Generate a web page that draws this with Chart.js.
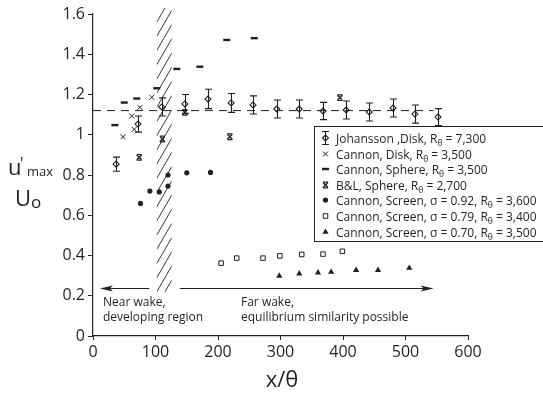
<!DOCTYPE html>
<html lang="en">
<head>
<meta charset="UTF-8">
<title>Wake turbulence intensity</title>
<script src="https://cdn.jsdelivr.net/npm/chart.js"></script>
<style>
    body { margin: 0; padding: 0; overflow: hidden; background: white; }
    #wrap { width: 543px; height: 394px; position: relative; }
</style>
</head>
<body>
<div id="wrap"><canvas id="chart" width="543" height="394"></canvas></div>
<script>
// values
const johanssonX = [37, 72, 110, 147, 184, 221, 256, 294, 330, 368, 405, 442, 480, 515, 552];
const johanssonY = [0.854, 1.053, 1.138, 1.153, 1.178, 1.158, 1.148, 1.128, 1.128, 1.118, 1.123, 1.113, 1.133, 1.103, 1.088];
const johanssonErr = [0.035, 0.04, 0.045, 0.047, 0.048, 0.047, 0.045, 0.045, 0.045, 0.043, 0.045, 0.045, 0.045, 0.045, 0.042];

const diskX = [48, 62, 66, 75, 94];
const diskY = [0.99, 1.093, 1.027, 1.136, 1.186];

const sphereX = [35, 50, 70, 102, 134, 171, 214, 258];
const sphereY = [1.048, 1.16, 1.18, 1.231, 1.327, 1.338, 1.471, 1.48];

const blX = [74, 111, 147, 219, 395];
const blY = [0.888, 0.979, 1.111, 0.99, 1.184];

const screen92X = [76, 91, 106, 120, 120, 150, 188];
const screen92Y = [0.659, 0.72, 0.716, 0.745, 0.8, 0.811, 0.813];

const screen79X = [205, 230, 272, 299, 334, 368, 399];
const screen79Y = [0.362, 0.387, 0.387, 0.398, 0.405, 0.407, 0.421];

const screen70X = [298, 330, 360, 381, 421, 456, 506];
const screen70Y = [0.299, 0.31, 0.315, 0.318, 0.327, 0.327, 0.338];

// equilibrium level and annotations
const levelX = [0, 545];
const levelY = [1.12, 1.12];
const hatchX = [102, 126];
const hatchY = [0.22, 1.63];
const nearArrowX = [90, 11];
const farArrowX = [139, 545];
const arrowY = 0.236;

const legendLabels = [
    'Johansson ,Disk, R_θ = 7,300',
    'Cannon, Disk, R_θ = 3,500',
    'Cannon, Sphere, R_θ = 3,500',
    'B&L, Sphere, R_θ = 2,700',
    'Cannon, Screen, σ = 0.92, R_θ = 3,600',
    'Cannon, Screen, σ = 0.79, R_θ = 3,400',
    'Cannon, Screen, σ = 0.70, R_θ = 3,500'
];
const nearText = ['Near wake,', 'developing region'];
const farText = ['Far wake,', 'equilibrium similarity possible'];

const ink = '#231f20';
const fontFamily = '"Open Sans", "DejaVu Sans", sans-serif';

function pts(xs, ys) {
    return xs.map((x, i) => ({ x: x, y: ys[i] }));
}

const datasets = [
    { label: legendLabels[0], data: pts(johanssonX, johanssonY), pointStyle: 'rectRot', pointRadius: 3,
      borderColor: ink, backgroundColor: 'rgba(0,0,0,0)', pointBorderWidth: 1.1, errKey: true },
    { label: legendLabels[1], data: pts(diskX, diskY), pointStyle: 'crossRot', pointRadius: 3.5,
      borderColor: ink, backgroundColor: ink, pointBorderWidth: 1 },
    { label: legendLabels[2], data: pts(sphereX, sphereY), pointStyle: 'line', pointRadius: 3.5,
      borderColor: ink, backgroundColor: ink, pointBorderWidth: 2.4 },
    { label: legendLabels[3], data: pts(blX, blY), pointStyle: 'crossRot', pointRadius: 3.4,
      borderColor: ink, backgroundColor: ink, pointBorderWidth: 1.4, barred: true },
    { label: legendLabels[4], data: pts(screen92X, screen92Y), pointStyle: 'circle', pointRadius: 2.6,
      borderColor: ink, backgroundColor: ink, pointBorderWidth: 0 },
    { label: legendLabels[5], data: pts(screen79X, screen79Y), pointStyle: 'rect', pointRadius: 3.2,
      borderColor: ink, backgroundColor: '#fff', pointBorderWidth: 1 },
    { label: legendLabels[6], data: pts(screen70X, screen70Y), pointStyle: 'triangle', pointRadius: 3.6,
      borderColor: ink, backgroundColor: ink, pointBorderWidth: 0 },
    { label: 'level', data: pts(levelX, levelY), showLine: true, pointRadius: 0,
      borderColor: ink, borderWidth: 1, borderDash: [8, 6], inKey: false }
];

function bars(ctx, px, py) {
    ctx.beginPath();
    ctx.moveTo(px - 2.6, py - 2.8); ctx.lineTo(px + 2.6, py - 2.8);
    ctx.moveTo(px - 2.6, py + 2.8); ctx.lineTo(px + 2.6, py + 2.8);
    ctx.stroke();
}

function errorBar(ctx, px, top, bot) {
    ctx.beginPath();
    ctx.moveTo(px, top); ctx.lineTo(px, bot);
    ctx.moveTo(px - 3.5, top); ctx.lineTo(px + 3.5, top);
    ctx.moveTo(px - 3.5, bot); ctx.lineTo(px + 3.5, bot);
    ctx.stroke();
}

const decorations = {
    id: 'decorations',
    beforeDatasetsDraw(chart) {
        const { ctx, scales: { x, y } } = chart;
        // hatched band
        const x0 = x.getPixelForValue(hatchX[0]), x1 = x.getPixelForValue(hatchX[1]);
        const yTop = y.getPixelForValue(hatchY[1]), yBot = y.getPixelForValue(hatchY[0]);
        ctx.save();
        ctx.beginPath();
        ctx.rect(x0, yTop, x1 - x0, yBot - yTop);
        ctx.clip();
        ctx.strokeStyle = ink;
        ctx.lineWidth = 0.9;
        const rise = 26, gap = 14.2;
        for (let yy = yTop; yy < yBot + rise; yy += gap) {
            ctx.beginPath();
            ctx.moveTo(x0, yy);
            ctx.lineTo(x1, yy - rise);
            ctx.stroke();
        }
        ctx.restore();

        // error bars
        ctx.save();
        ctx.strokeStyle = ink;
        ctx.lineWidth = 1.1;
        johanssonX.forEach((xv, i) => {
            const px = Math.round(x.getPixelForValue(xv)) + 0.5;
            errorBar(ctx, px, y.getPixelForValue(johanssonY[i] + johanssonErr[i]),
                     y.getPixelForValue(johanssonY[i] - johanssonErr[i]));
        });
        ctx.restore();
    },
    afterDatasetsDraw(chart) {
        const { ctx, scales: { x, y } } = chart;
        ctx.save();
        ctx.strokeStyle = ink;
        ctx.lineWidth = 1.2;
        blX.forEach((xv, i) => bars(ctx, x.getPixelForValue(xv), y.getPixelForValue(blY[i])));
        ctx.restore();
    },
    afterDraw(chart) {
        const { ctx, scales: { x, y } } = chart;
        ctx.save();
        ctx.strokeStyle = ink;
        ctx.fillStyle = ink;

        // arrows
        const ay = y.getPixelForValue(arrowY);
        [nearArrowX, farArrowX].forEach(a => {
            const xs = x.getPixelForValue(a[0]), xe = x.getPixelForValue(a[1]);
            const dir = Math.sign(xe - xs);
            ctx.lineWidth = 1.2;
            ctx.beginPath();
            ctx.moveTo(xs, ay); ctx.lineTo(xe - dir * 8, ay);
            ctx.stroke();
            ctx.beginPath();
            ctx.moveTo(xe, ay);
            ctx.lineTo(xe - dir * 13, ay - 3);
            ctx.lineTo(xe - dir * 10, ay);
            ctx.lineTo(xe - dir * 13, ay + 3);
            ctx.closePath();
            ctx.fill();
        });

        // region notes
        ctx.font = '12px ' + fontFamily;
        ctx.textAlign = 'left';
        ctx.textBaseline = 'alphabetic';
        nearText.forEach((t, i) => ctx.fillText(t, 103, 306 + i * 15));
        farText.forEach((t, i) => ctx.fillText(t, 241, 306 + i * 15));

        // key
        const bx = 314.5, by = 126.5, bw = 240, bh = 115;
        ctx.fillStyle = '#fff';
        ctx.fillRect(bx, by, bw, bh);
        ctx.lineWidth = 1;
        ctx.strokeRect(bx, by, bw, bh);
        const keyItems = chart.data.datasets.filter(d => d.inKey !== false);
        keyItems.forEach((d, i) => {
            const cy = Math.round(by + 11.5 + i * 15.6);
            ctx.fillStyle = d.backgroundColor;
            ctx.strokeStyle = d.borderColor;
            ctx.lineWidth = d.pointBorderWidth;
            if (d.errKey) {
                ctx.lineWidth = 1.1;
                errorBar(ctx, 325.5, cy - 6.5, cy + 6.5);
            }
            Chart.helpers.drawPoint(ctx, {
                pointStyle: d.pointStyle,
                radius: d.pointRadius,
                borderWidth: d.pointBorderWidth,
                rotation: 0
            }, 325.5, cy);
            if (d.barred) {
                ctx.lineWidth = 1.2;
                bars(ctx, 325.5, cy);
            }
            ctx.fillStyle = ink; ctx.strokeStyle = ink;
            drawLabel(ctx, d.label, 336, cy + 4.5);
        });

        // axis titles
        ctx.fillStyle = ink;
        ctx.textAlign = 'left';
        ctx.font = '22px ' + fontFamily;
        ctx.fillText('u', 8, 175);
        ctx.font = '16px ' + fontFamily;
        ctx.fillText('\'', 20, 169);
        ctx.font = '13px ' + fontFamily;
        ctx.fillText('max', 27, 176);
        ctx.font = '22px ' + fontFamily;
        ctx.fillText('U', 15, 206);
        ctx.font = '17px ' + fontFamily;
        ctx.fillText('o', 31, 208);

        ctx.font = '22px ' + fontFamily;
        ctx.textAlign = 'center';
        ctx.fillText('x/θ', 282, 387);
        ctx.restore();
    }
};

// label text with "_θ" rendered as a subscript
function drawLabel(ctx, label, x0, base) {
    const parts = label.split('_θ');
    let xx = x0;
    parts.forEach((p, i) => {
        ctx.font = '12px ' + fontFamily;
        ctx.textAlign = 'left';
        ctx.fillText(p, xx, base);
        xx += ctx.measureText(p).width;
        if (i < parts.length - 1) {
            ctx.font = '8.5px ' + fontFamily;
            ctx.fillText('θ', xx, base + 3);
            xx += ctx.measureText('θ').width;
        }
    });
}

const tickFont = { family: fontFamily, size: 16 };

new Chart(document.getElementById('chart'), {
    type: 'scatter',
    data: { datasets: datasets },
    options: {
        responsive: false,
        animation: false,
        layout: { padding: { left: 0, right: 75, top: 14, bottom: 0 } },
        plugins: { legend: { display: false }, tooltip: { enabled: false } },
        scales: {
            x: {
                type: 'linear', min: 0, max: 600,
                ticks: { stepSize: 100, font: tickFont, color: ink, padding: 3 },
                grid: { drawOnChartArea: false, tickLength: 4, color: ink },
                border: { color: ink, width: 1.2 },
                afterFit(s) { s.height = 58; }
            },
            y: {
                min: 0, max: 1.6,
                ticks: { stepSize: 0.2, font: tickFont, color: ink, padding: 3,
                         callback: v => String(+v.toFixed(1)) },
                grid: { drawOnChartArea: false, tickLength: 5, color: ink },
                border: { color: ink, width: 1.2 },
                afterFit(s) { s.width = 93; }
            }
        }
    },
    plugins: [decorations]
});
</script>
</body>
</html>
